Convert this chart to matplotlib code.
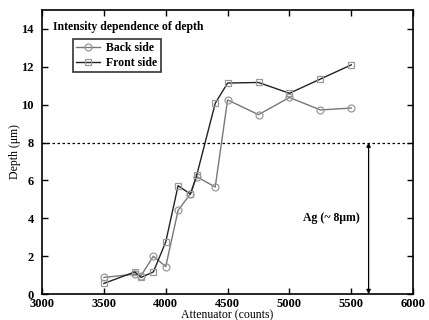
import numpy as np
import matplotlib
matplotlib.use("Agg")
import matplotlib.pyplot as plt

# Data
attenuator = [3500, 3750, 3800, 3900, 4000, 4100, 4200, 4250, 4400, 4500, 4750, 5000, 5250, 5500]
back_side = [0.88, 1.05, 0.97, 2.0, 1.45, 4.42, 5.3, 6.2, 5.65, 10.25, 9.47, 10.38, 9.72, 9.82]
front_side = [0.56, 1.17, 0.88, 1.17, 2.75, 5.72, 5.28, 6.26, 10.07, 11.14, 11.17, 10.6, 11.35, 12.1]
ag_depth = 8
ag_x = 5640

plt.rcParams['font.family'] = ['Liberation Serif', 'DejaVu Serif']
plt.rcParams['font.weight'] = 'bold'
plt.rcParams['font.size'] = 8.5

fig = plt.figure(figsize=(4.29, 3.2), dpi=100)
ax = fig.add_axes([0.098, 0.081, 0.865, 0.888])

ax.plot(attenuator, back_side, color='#777777', lw=1.0, marker='o', markersize=5,
        markerfacecolor='none', markeredgecolor='#999999', markeredgewidth=0.9, label='Back side')
ax.plot(attenuator, front_side, color='#222222', lw=1.0, marker='s', markersize=5,
        markerfacecolor='none', markeredgecolor='#999999', markeredgewidth=0.9, label='Front side')

ax.axhline(ag_depth, color='black', lw=0.9, ls=(0, (2, 2)))
ax.annotate('', xy=(ag_x, 0), xytext=(ag_x, ag_depth),
            arrowprops=dict(arrowstyle='<|-|>', color='black', lw=0.9, mutation_scale=6, shrinkA=0, shrinkB=0))
ax.text(5570, 4.0, 'Ag (~ 8μm)', ha='right', va='center')
ax.text(3085, 14.1, 'Intensity dependence of depth', ha='left', va='center')

ax.set_xlim(3000, 6000)
ax.set_ylim(0, 15)
ax.set_xticks([3000, 3500, 4000, 4500, 5000, 5500, 6000])
ax.set_yticks([0, 2, 4, 6, 8, 10, 12, 14])
ax.tick_params(direction='in', top=True, right=True, length=4, width=1, labelsize=9)
ax.tick_params(axis='x', pad=3)
ax.tick_params(axis='y', pad=6)
for s in ax.spines.values():
    s.set_linewidth(1.2)

ax.set_xlabel('Attenuator (counts)', labelpad=-1)
ax.set_ylabel('Depth (μm)', labelpad=0)

leg = ax.legend(loc='upper left', bbox_to_anchor=(0.083, 0.898), borderaxespad=0, frameon=True,
                fancybox=False, edgecolor='black', handlelength=2.0, borderpad=0.3,
                labelspacing=0.2, handletextpad=0.5)
leg.get_frame().set_linewidth(1.2)

fig.savefig('out.png', dpi=100)
